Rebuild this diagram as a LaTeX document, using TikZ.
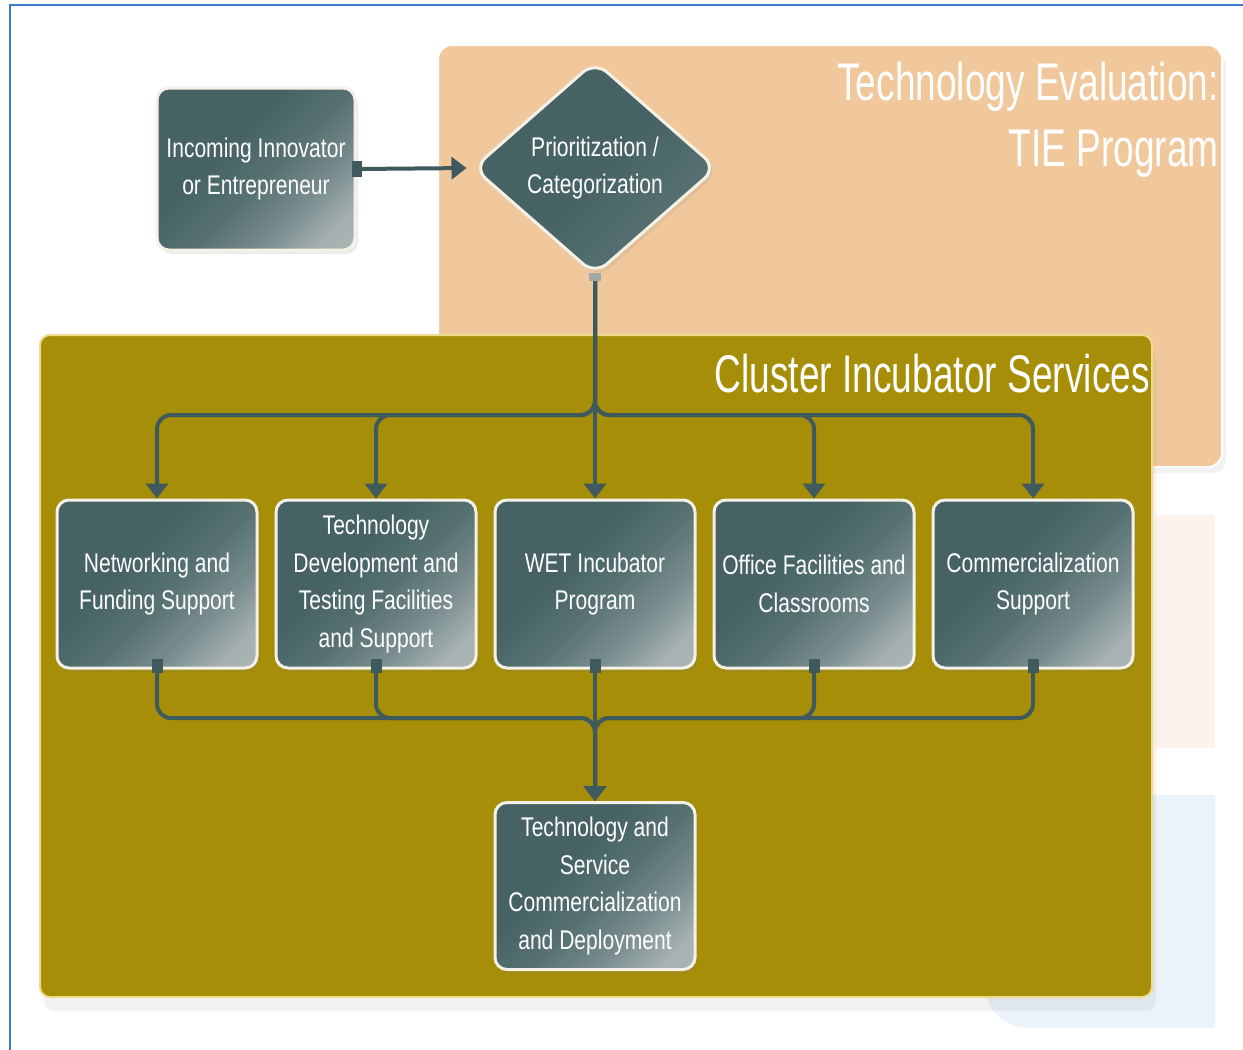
\documentclass[tikz,border=0pt]{standalone}
\usepackage{fontspec}
\newfontfamily\boxfont[FakeStretch=0.78]{Liberation Sans}
\newfontfamily\titlefont[FakeStretch=0.7]{Liberation Sans}
\usetikzlibrary{shapes.geometric,arrows.meta,shadows}
\definecolor{framecol}{HTML}{3A7CC8}
\definecolor{peach}{HTML}{F0C89C}
\definecolor{olive}{HTML}{A68E08}
\definecolor{oliveedge}{HTML}{EEDC8C}
\definecolor{boxdark}{HTML}{466264}
\definecolor{boxmid}{HTML}{587273}
\definecolor{boxlight}{HTML}{B4BCBC}
\definecolor{conncol}{HTML}{3F5A5D}
\definecolor{boxedge}{HTML}{F4F2E6}
\definecolor{faintpink}{HTML}{FCF3EC}
\definecolor{faintblue}{HTML}{EAF2FA}
\pgfdeclareverticalshading{boxshade}{100bp}{color(0bp)=(boxlight); color(22bp)=(boxlight!85!boxmid); color(34bp)=(boxlight!35!boxmid); color(46bp)=(boxmid); color(60bp)=(boxdark); color(100bp)=(boxdark)}
\pgfdeclareverticalshading{diashade}{100bp}{color(0bp)=(boxmid); color(30bp)=(boxmid); color(50bp)=(boxdark); color(100bp)=(boxdark)}
\tikzset{
  procbox/.style={rectangle, rounded corners=12pt, draw=boxedge, line width=3pt,
    minimum width=200pt, minimum height=168pt, align=center, text=white, inner sep=2pt,
    font=\boxfont\fontsize{27}{37.5}\selectfont,
    shading=boxshade, shading angle=45,
    drop shadow={opacity=0.15, shadow xshift=3pt, shadow yshift=-4pt}},
  decbox/.style={diamond, aspect=1.14, rounded corners=16pt, draw=boxedge, line width=3pt,
    minimum width=244pt, minimum height=214pt, align=center, text=white, inner sep=0pt,
    font=\boxfont\fontsize{27}{37.5}\selectfont,
    shading=diashade, shading angle=45,
    drop shadow={opacity=0.12, shadow xshift=3pt, shadow yshift=-4pt}},
  titletext/.style={inner sep=0pt, text=white, font=\titlefont\fontsize{53}{66}\selectfont},
  conn/.style={draw=conncol, line width=4pt, rounded corners=14pt},
  arr/.style={conn, -{Triangle[width=22pt,length=15pt]}},
  sq/.style={rectangle, fill=conncol, minimum width=11pt, minimum height=14pt, inner sep=0pt}
}
\begin{document}
\begin{tikzpicture}[x=1pt,y=-1pt]
\useasboundingbox (0,0) rectangle (1243,1050);
\fill[white] (0,0) rectangle (1243,1050);
% frame
\draw[framecol, line width=2pt] (10,1050) -- (10,5) -- (1243,5);
% faint background panels
\fill[faintpink] (1155,515) rectangle (1215,748);
\fill[faintblue] (985,795) -- (1215,795) -- (1215,1028) -- (1030,1028)
  .. controls (1005,1028) and (985,1010) .. (985,985) -- cycle;
% orange panel
\fill[peach, rounded corners=14pt, draw=white, line width=2pt,
  drop shadow={opacity=0.10, shadow xshift=4pt, shadow yshift=-6pt}]
  (438,45) rectangle (1222,467);
% olive panel
\fill[olive, rounded corners=10pt, draw=oliveedge, line width=2pt,
  drop shadow={opacity=0.10, shadow xshift=4pt, shadow yshift=-14pt}]
  (40,335) rectangle (1152,997);
% titles
\node[titletext, anchor=base east] (t1) at (1219,100) {Technology Evaluation:};
\node[titletext, anchor=base east] (t2) at (1219,166) {TIE Program};
\node[titletext, anchor=base east] (t3) at (1150,392) {Cluster Incubator Services};
% nodes
\node[procbox, minimum width=198pt, minimum height=162pt] (inc) at (256,169) {Incoming Innovator\\or Entrepreneur};
\node[decbox] (dia) at (595,168) {Prioritization /\\Categorization};
\node[procbox] (b1) at (157,584) {Networking and\\Funding Support};
\node[procbox] (b2) at (376,584) {Technology\\Development and\\Testing Facilities\\and Support};
\node[procbox] (b3) at (595,584) {WET Incubator\\Program};
\node[procbox] (b4) at (814,584) {Office Facilities and\\Classrooms};
\node[procbox] (b5) at (1033,584) {Commercialization\\Support};
\node[procbox, minimum height=167pt] (b6) at (595,886) {Technology and\\Service\\Commercialization\\and Deployment};
% junction coordinates
\coordinate (jtop) at (595,415);
\coordinate (jbot) at (595,718);
% connectors
\draw[arr, shorten >=5pt] (inc.east) -- (dia.west);
\node[sq, minimum width=10pt, minimum height=16pt] (sqi) at (inc.east) {};
\draw[arr] (dia.south) -- (jtop) -| (b1.north);
\draw[arr] (dia.south) -- (jtop) -| (b2.north);
\draw[arr] (dia.south) -- (b3.north);
\draw[arr] (dia.south) -- (jtop) -| (b4.north);
\draw[arr] (dia.south) -- (jtop) -| (b5.north);
\node[sq, fill=boxlight!80!boxdark, minimum width=12pt, minimum height=8pt] (sqd) at (dia.south) {};
\draw[arr] (b1.south) |- (jbot) -- (b6.north);
\draw[arr] (b2.south) |- (jbot) -- (b6.north);
\draw[arr] (b4.south) |- (jbot) -- (b6.north);
\draw[arr] (b5.south) |- (jbot) -- (b6.north);
\draw[arr] (b3.south) -- (b6.north);
\foreach \b in {b1,b2,b3,b4,b5} {
  \node[sq] (sq\b) at ([yshift=4pt]\b.south) {};
}
\end{tikzpicture}
\end{document}
